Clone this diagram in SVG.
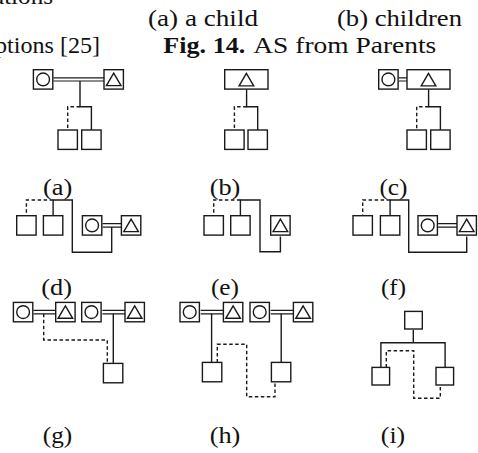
<svg xmlns="http://www.w3.org/2000/svg" width="478" height="453" viewBox="0 0 478 453">
  <style>
    .bg { fill: #ffffff; }
    .box { fill: #ffffff; stroke: #1a1a1a; stroke-width: 1.4; }
    .sym { fill: none; stroke: #1a1a1a; stroke-width: 1.4; stroke-linejoin: miter; }
    .ln { fill: none; stroke: #1a1a1a; stroke-width: 1.4; stroke-linejoin: miter; }
    .dash { fill: none; stroke: #1a1a1a; stroke-width: 1.4; stroke-dasharray: 3.5 2.5; }
    .dbl { fill: none; stroke: #1a1a1a; stroke-width: 1.2; }
    .t { font-family: "Liberation Serif", "Times New Roman", serif; font-size: 23px; fill: #111111; }
    .lbl { text-anchor: middle; }
    .b { font-weight: bold; }
  </style>
  <defs>
    <!-- reusable node glyphs, drawn with their top-left corner at the origin -->
    <rect id="sq" class="box" x="0" y="0" width="19.4" height="19.4"/>
    <g id="female">
      <rect class="box" x="0" y="0" width="19.4" height="19.4"/>
      <circle class="sym" cx="9.7" cy="9.7" r="6.4"/>
    </g>
    <g id="male">
      <rect class="box" x="0" y="0" width="19.4" height="19.4"/>
      <polygon class="sym" points="9.7,3.4 2.4,15.9 17,15.9"/>
    </g>
    <polygon id="tri" class="sym" points="0,-6.2 -7.3,6.3 7.3,6.3"/>
  </defs>

  <rect class="bg" x="0" y="0" width="478" height="453"/>

  <!-- captions -->
  <g id="captions">
    <text class="t" x="-7" y="3.5" textLength="60" lengthAdjust="spacingAndGlyphs">ations</text>
    <text class="t" x="148" y="25.5" textLength="110" lengthAdjust="spacingAndGlyphs">(a) a child</text>
    <text class="t" x="337" y="25.5" textLength="125" lengthAdjust="spacingAndGlyphs">(b) children</text>
    <text class="t" x="-5" y="53" textLength="105" lengthAdjust="spacingAndGlyphs">ptions [25]</text>
    <text class="t b" x="163.3" y="53" textLength="82" lengthAdjust="spacingAndGlyphs">Fig. 14.</text>
    <text class="t" x="253.3" y="53" textLength="183" lengthAdjust="spacingAndGlyphs">AS from Parents</text>
  </g>

  <!-- panel labels -->
  <g id="labels">
    <text class="t lbl" x="57.7" y="194.5" textLength="29.4" lengthAdjust="spacingAndGlyphs">(a)</text>
    <text class="t lbl" x="225" y="194.5" textLength="30.7" lengthAdjust="spacingAndGlyphs">(b)</text>
    <text class="t lbl" x="393.5" y="194.5" textLength="28.1" lengthAdjust="spacingAndGlyphs">(c)</text>
    <text class="t lbl" x="56.7" y="294.5" textLength="30.7" lengthAdjust="spacingAndGlyphs">(d)</text>
    <text class="t lbl" x="225" y="294.5" textLength="28.1" lengthAdjust="spacingAndGlyphs">(e)</text>
    <text class="t lbl" x="393.5" y="294.5" textLength="24.9" lengthAdjust="spacingAndGlyphs">(f)</text>
    <text class="t lbl" x="57.5" y="443" textLength="29.4" lengthAdjust="spacingAndGlyphs">(g)</text>
    <text class="t lbl" x="225" y="443" textLength="30.7" lengthAdjust="spacingAndGlyphs">(h)</text>
    <text class="t lbl" x="393" y="443" textLength="24.3" lengthAdjust="spacingAndGlyphs">(i)</text>
  </g>

  <!-- connectors: marriage double lines, descent lines, dashed links -->
  <g id="connectors">
    <!-- (a) -->
    <path class="dbl" d="M53.3,77.8 H104 M53.3,81 H104"/>
    <path class="ln" d="M80,81 V106.7 H91.4 V130"/>
    <path class="dash" d="M80,106.7 H67.7 V130"/>
    <!-- (b) -->
    <path class="ln" d="M246.6,89.6 V106.7 H257.7 V130"/>
    <path class="dash" d="M246.6,106.7 H234.4 V130"/>
    <!-- (c) -->
    <path class="dbl" d="M398.8,77.8 H407 M398.8,81 H407"/>
    <path class="ln" d="M428.6,89.6 V106.7 H440.4 V130"/>
    <path class="dash" d="M428.6,106.7 H416.7 V130"/>
    <!-- (d) -->
    <path class="dbl" d="M102.5,223.7 H121.4 M102.5,227.1 H121.4"/>
    <path class="ln" d="M111.7,227.1 V252.3 H72.3 V200 H53.1 V215.7"/>
    <path class="dash" d="M53.1,200 H26.4 V215.7"/>
    <!-- (e) -->
    <path class="ln" d="M280.4,236.5 V251.7 H260 V200 H240.4 V215.7"/>
    <path class="dash" d="M240.4,200 H213.7 V215.7"/>
    <!-- (f) -->
    <path class="dbl" d="M438.1,223.7 H457 M438.1,227.1 H457"/>
    <path class="ln" d="M466.7,236.5 V252.3 H408.7 V200 H390.1 V215.7"/>
    <path class="dash" d="M390.1,200 H362.7 V215.7"/>
    <!-- (g) -->
    <path class="dbl" d="M33.5,310.4 H55.7 M33.5,313.8 H55.7"/>
    <path class="dbl" d="M102.4,310.4 H125 M102.4,313.8 H125"/>
    <path class="dash" d="M43.7,313.8 V340 H107.3 V363.4"/>
    <path class="ln" d="M113.3,313.8 V363.4"/>
    <!-- (h) -->
    <path class="dbl" d="M200.7,310.4 H223.4 M200.7,313.8 H223.4"/>
    <path class="dbl" d="M270.7,310.4 H293.4 M270.7,313.8 H293.4"/>
    <path class="ln" d="M211.6,313.8 V362.4"/>
    <path class="ln" d="M281.2,313.8 V362.4"/>
    <path class="dash" d="M217.3,362.4 V344.3 H246.7 V396.7 H275 V382.5"/>
    <!-- (i) -->
    <path class="ln" d="M413.3,329.7 V342.7"/>
    <path class="ln" d="M380.9,367.4 V342.7 H445.1 V367.4"/>
    <path class="dash" d="M386.3,367.4 V350.7 H413.7 V398.3 H440.3 V385.7"/>
  </g>

  <!-- panel (a) -->
  <g id="a-mother"><use href="#female" x="33.4" y="69.7"/></g>
  <g id="a-father"><use href="#male" x="104" y="69.7"/></g>
  <g id="a-child1"><use href="#sq" x="58" y="130"/></g>
  <g id="a-child2"><use href="#sq" x="81.7" y="130"/></g>

  <!-- panel (b) -->
  <g id="b-parent">
    <rect class="box" x="224.7" y="69.7" width="43.3" height="19.4"/>
    <use href="#tri" x="246.4" y="79.6"/>
  </g>
  <g id="b-child1"><use href="#sq" x="224.7" y="130"/></g>
  <g id="b-child2"><use href="#sq" x="248" y="130"/></g>

  <!-- panel (c) -->
  <g id="c-mother"><use href="#female" x="378.7" y="69.7"/></g>
  <g id="c-father">
    <rect class="box" x="407" y="69.7" width="43" height="19.4"/>
    <use href="#tri" x="428.5" y="79.6"/>
  </g>
  <g id="c-child1"><use href="#sq" x="407" y="130"/></g>
  <g id="c-child2"><use href="#sq" x="430.7" y="130"/></g>

  <!-- panel (d) -->
  <g id="d-child1"><use href="#sq" x="16.7" y="215.7"/></g>
  <g id="d-child2"><use href="#sq" x="43.4" y="215.7"/></g>
  <g id="d-mother"><use href="#female" x="82.4" y="215.7"/></g>
  <g id="d-father"><use href="#male" x="121.4" y="215.7"/></g>

  <!-- panel (e) -->
  <g id="e-child1"><use href="#sq" x="204" y="215.7"/></g>
  <g id="e-child2"><use href="#sq" x="230.7" y="215.7"/></g>
  <g id="e-parent"><use href="#male" x="270.7" y="215.7"/></g>

  <!-- panel (f) -->
  <g id="f-child1"><use href="#sq" x="353" y="215.7"/></g>
  <g id="f-child2"><use href="#sq" x="380.4" y="215.7"/></g>
  <g id="f-mother"><use href="#female" x="418" y="215.7"/></g>
  <g id="f-father"><use href="#male" x="457" y="215.7"/></g>

  <!-- panel (g) -->
  <g id="g-mother1"><use href="#female" x="13.4" y="302.4"/></g>
  <g id="g-father1"><use href="#male" x="55.7" y="302.4"/></g>
  <g id="g-mother2"><use href="#female" x="81.7" y="302.4"/></g>
  <g id="g-father2"><use href="#male" x="125" y="302.4"/></g>
  <g id="g-child"><use href="#sq" x="103.4" y="363.4"/></g>

  <!-- panel (h) -->
  <g id="h-mother1"><use href="#female" x="180" y="302.4"/></g>
  <g id="h-father1"><use href="#male" x="223.4" y="302.4"/></g>
  <g id="h-mother2"><use href="#female" x="250" y="302.4"/></g>
  <g id="h-father2"><use href="#male" x="293.4" y="302.4"/></g>
  <g id="h-child1"><use href="#sq" x="202.4" y="362.4"/></g>
  <g id="h-child2"><use href="#sq" x="271.4" y="362.4"/></g>

  <!-- panel (i) -->
  <g id="i-parent"><rect class="box" x="404.7" y="311.4" width="17.6" height="17.6"/></g>
  <g id="i-child1"><rect class="box" x="372" y="367.4" width="17.6" height="17.6"/></g>
  <g id="i-child2"><rect class="box" x="436" y="367.4" width="17.6" height="17.6"/></g>
</svg>
